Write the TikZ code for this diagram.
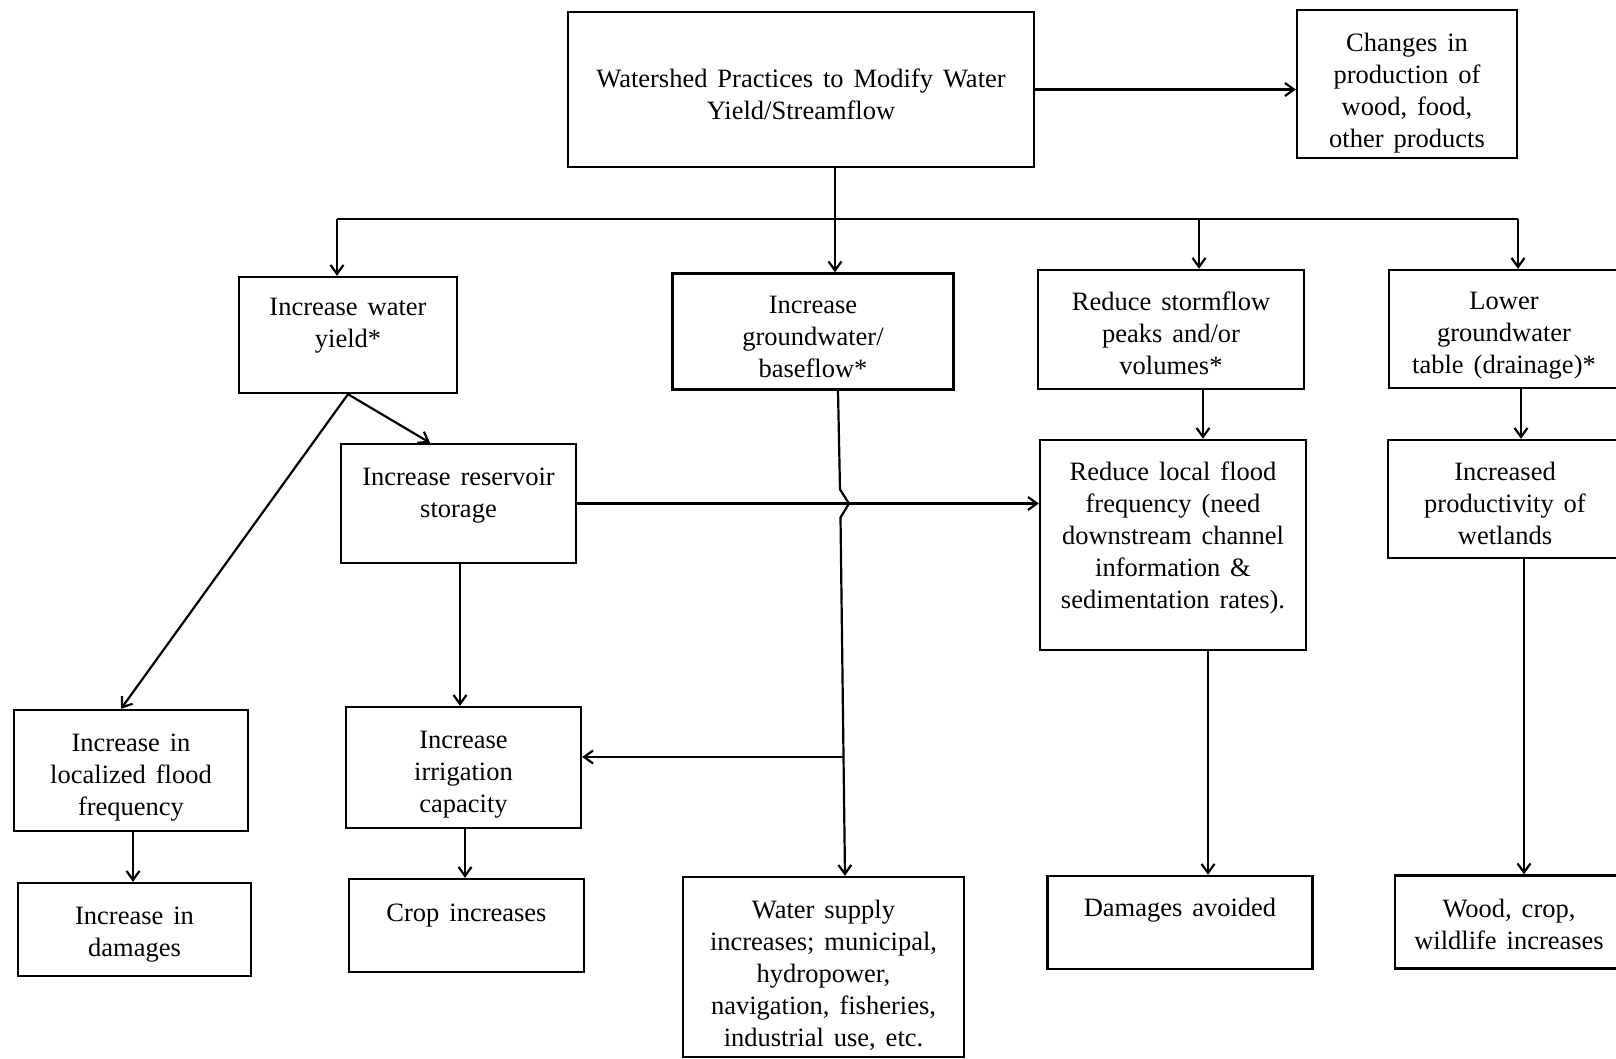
\documentclass[tikz,border=0pt]{standalone}
\usepackage{fontspec}
\setmainfont[WordSpace=1.5]{Liberation Serif}
\usetikzlibrary{arrows.meta}
% first-line strut (pushes the text block down) and last-line strut (lifts it)
\newcommand\ftop[1]{\rule{0pt}{\dimexpr19pt+#1pt\relax}}
\newcommand\fbot[1]{\rule[-\dimexpr6pt+#1pt\relax]{0pt}{0pt}}
\begin{document}
\begin{tikzpicture}[x=1pt,y=-1pt,
  box/.style 2 args={draw, line width=2.4pt, rectangle, align=center,
    inner sep=0pt, minimum width=#1pt, minimum height=#2pt,
    font=\fontsize{26.5}{32}\selectfont},
  wire/.style={line width=2.2pt},
  link/.style={wire, -{Straight Barb[length=9pt,width=13pt]}}]
\useasboundingbox (0,0) rectangle (1616,1059);
\fill[white] (0,0) rectangle (1616,1059);
\clip (0,0) rectangle (1616,1059);

% boxes
\node[box={466}{155}] (top)  at (801,89.5)   {\ftop{9}Watershed Practices to Modify Water\\Yield/Streamflow};
\node[box={220}{148}] (chg)  at (1407,84)    {\ftop{17}Changes in\\production of\\wood, food,\\other products};
\node[box={218}{116}] (wy)   at (348,335)    {Increase water\\yield*\fbot{18}};
\node[box={281}{116}] (gw)   at (813,331.5)  {\ftop{9}Increase\\groundwater/\\baseflow*};
\node[box={266}{119}] (sf)   at (1171,329.5) {\ftop{7}Reduce stormflow\\peaks and/or\\volumes*};
\node[box={230}{118}] (lg)   at (1504,329)   {\ftop{12}Lower\\groundwater\\table (drainage)*};
\node[box={235}{119}] (res)  at (458.5,503.5){Increase reservoir\\storage\fbot{15}};
\node[box={266}{210}] (lf)   at (1173,545)   {Reduce local flood\\frequency (need\\downstream channel\\information \&\\sedimentation rates).\fbot{13}};
\node[box={234}{118}] (prod) at (1505,499)   {\ftop{8}Increased\\productivity of\\wetlands};
\node[box={234}{121}] (loc)  at (131,770.5)  {\ftop{13}Increase in\\localized flood\\frequency};
\node[box={235}{121}] (irr)  at (463.5,767.5){\ftop{13}Increase\\irrigation\\capacity};
\node[box={233}{93}]  (dmg)  at (134.5,929.5){\ftop{9}Increase in\\damages};
\node[box={235}{93}]  (crop) at (466.5,925.5){Crop increases\fbot{19}};
\node[box={281}{180}] (ws)   at (823.5,967)  {\ftop{17}Water supply\\increases; municipal,\\hydropower,\\navigation, fisheries,\\industrial use, etc.};
\node[box={265}{93}]  (da)   at (1180,922.5) {Damages avoided\fbot{24}};
\node[box={228}{93}]  (wood) at (1509,922)   {\ftop{4}Wood, crop,\\wildlife increases};

% top level
\draw[link] (top.east) -- (top.east -| chg.west);
\coordinate (busL) at (337,219);
\coordinate (busM) at (835,219);
\coordinate (busS) at (1199,219);
\coordinate (busR) at (1518,219);
\draw[wire] (busL) -- (busR);
\draw[link] (top.south -| busM) -- (busM |- gw.north);
\draw[link] (busL) -- (busL |- wy.north);
\draw[link] (busS) -- (busS |- sf.north);
\draw[link] (busR) -- (busR |- lg.north);

% water yield branch
\draw[link] (wy.south) -- ([xshift=-28.5pt]res.north);
\draw[link] (wy.south) -- ([xshift=-10pt]loc.north);
\coordinate (r1) at ([xshift=1.5pt]res.south);
\draw[link] (r1) -- (r1 |- irr.north);
\draw[link] (res.east) -- (res.east -| lf.west);
\coordinate (l1) at ([xshift=2pt]loc.south);
\draw[link] (l1) -- (l1 |- dmg.north);
\coordinate (i1) at ([xshift=1.5pt]irr.south);
\draw[link] (i1) -- (i1 |- crop.north);

% groundwater branch, hopping over the reservoir line
\coordinate (g1) at ([xshift=25pt]gw.south);
\coordinate (w1) at ([xshift=21.5pt]ws.north);
\coordinate (hop) at (g1 |- res.east);
\draw[link] (g1) -- ([shift={(2,-14)}]hop) -- ([shift={(11,0)}]hop)
  -- ([shift={(2.5,14)}]hop) -- (w1);
\coordinate (tap) at (843,757);
\draw[link] (tap) -- (tap -| irr.east);

% stormflow and drainage branches
\coordinate (s1) at ([xshift=32pt]sf.south);
\draw[link] (s1) -- (s1 |- lf.north);
\coordinate (s2) at ([xshift=35pt]lf.south);
\draw[link] (s2) -- (s2 |- da.north);
\coordinate (d1) at ([xshift=17pt]lg.south);
\draw[link] (d1) -- (d1 |- prod.north);
\coordinate (d2) at ([xshift=19pt]prod.south);
\draw[link] (d2) -- (d2 |- wood.north);
\end{tikzpicture}
\end{document}
